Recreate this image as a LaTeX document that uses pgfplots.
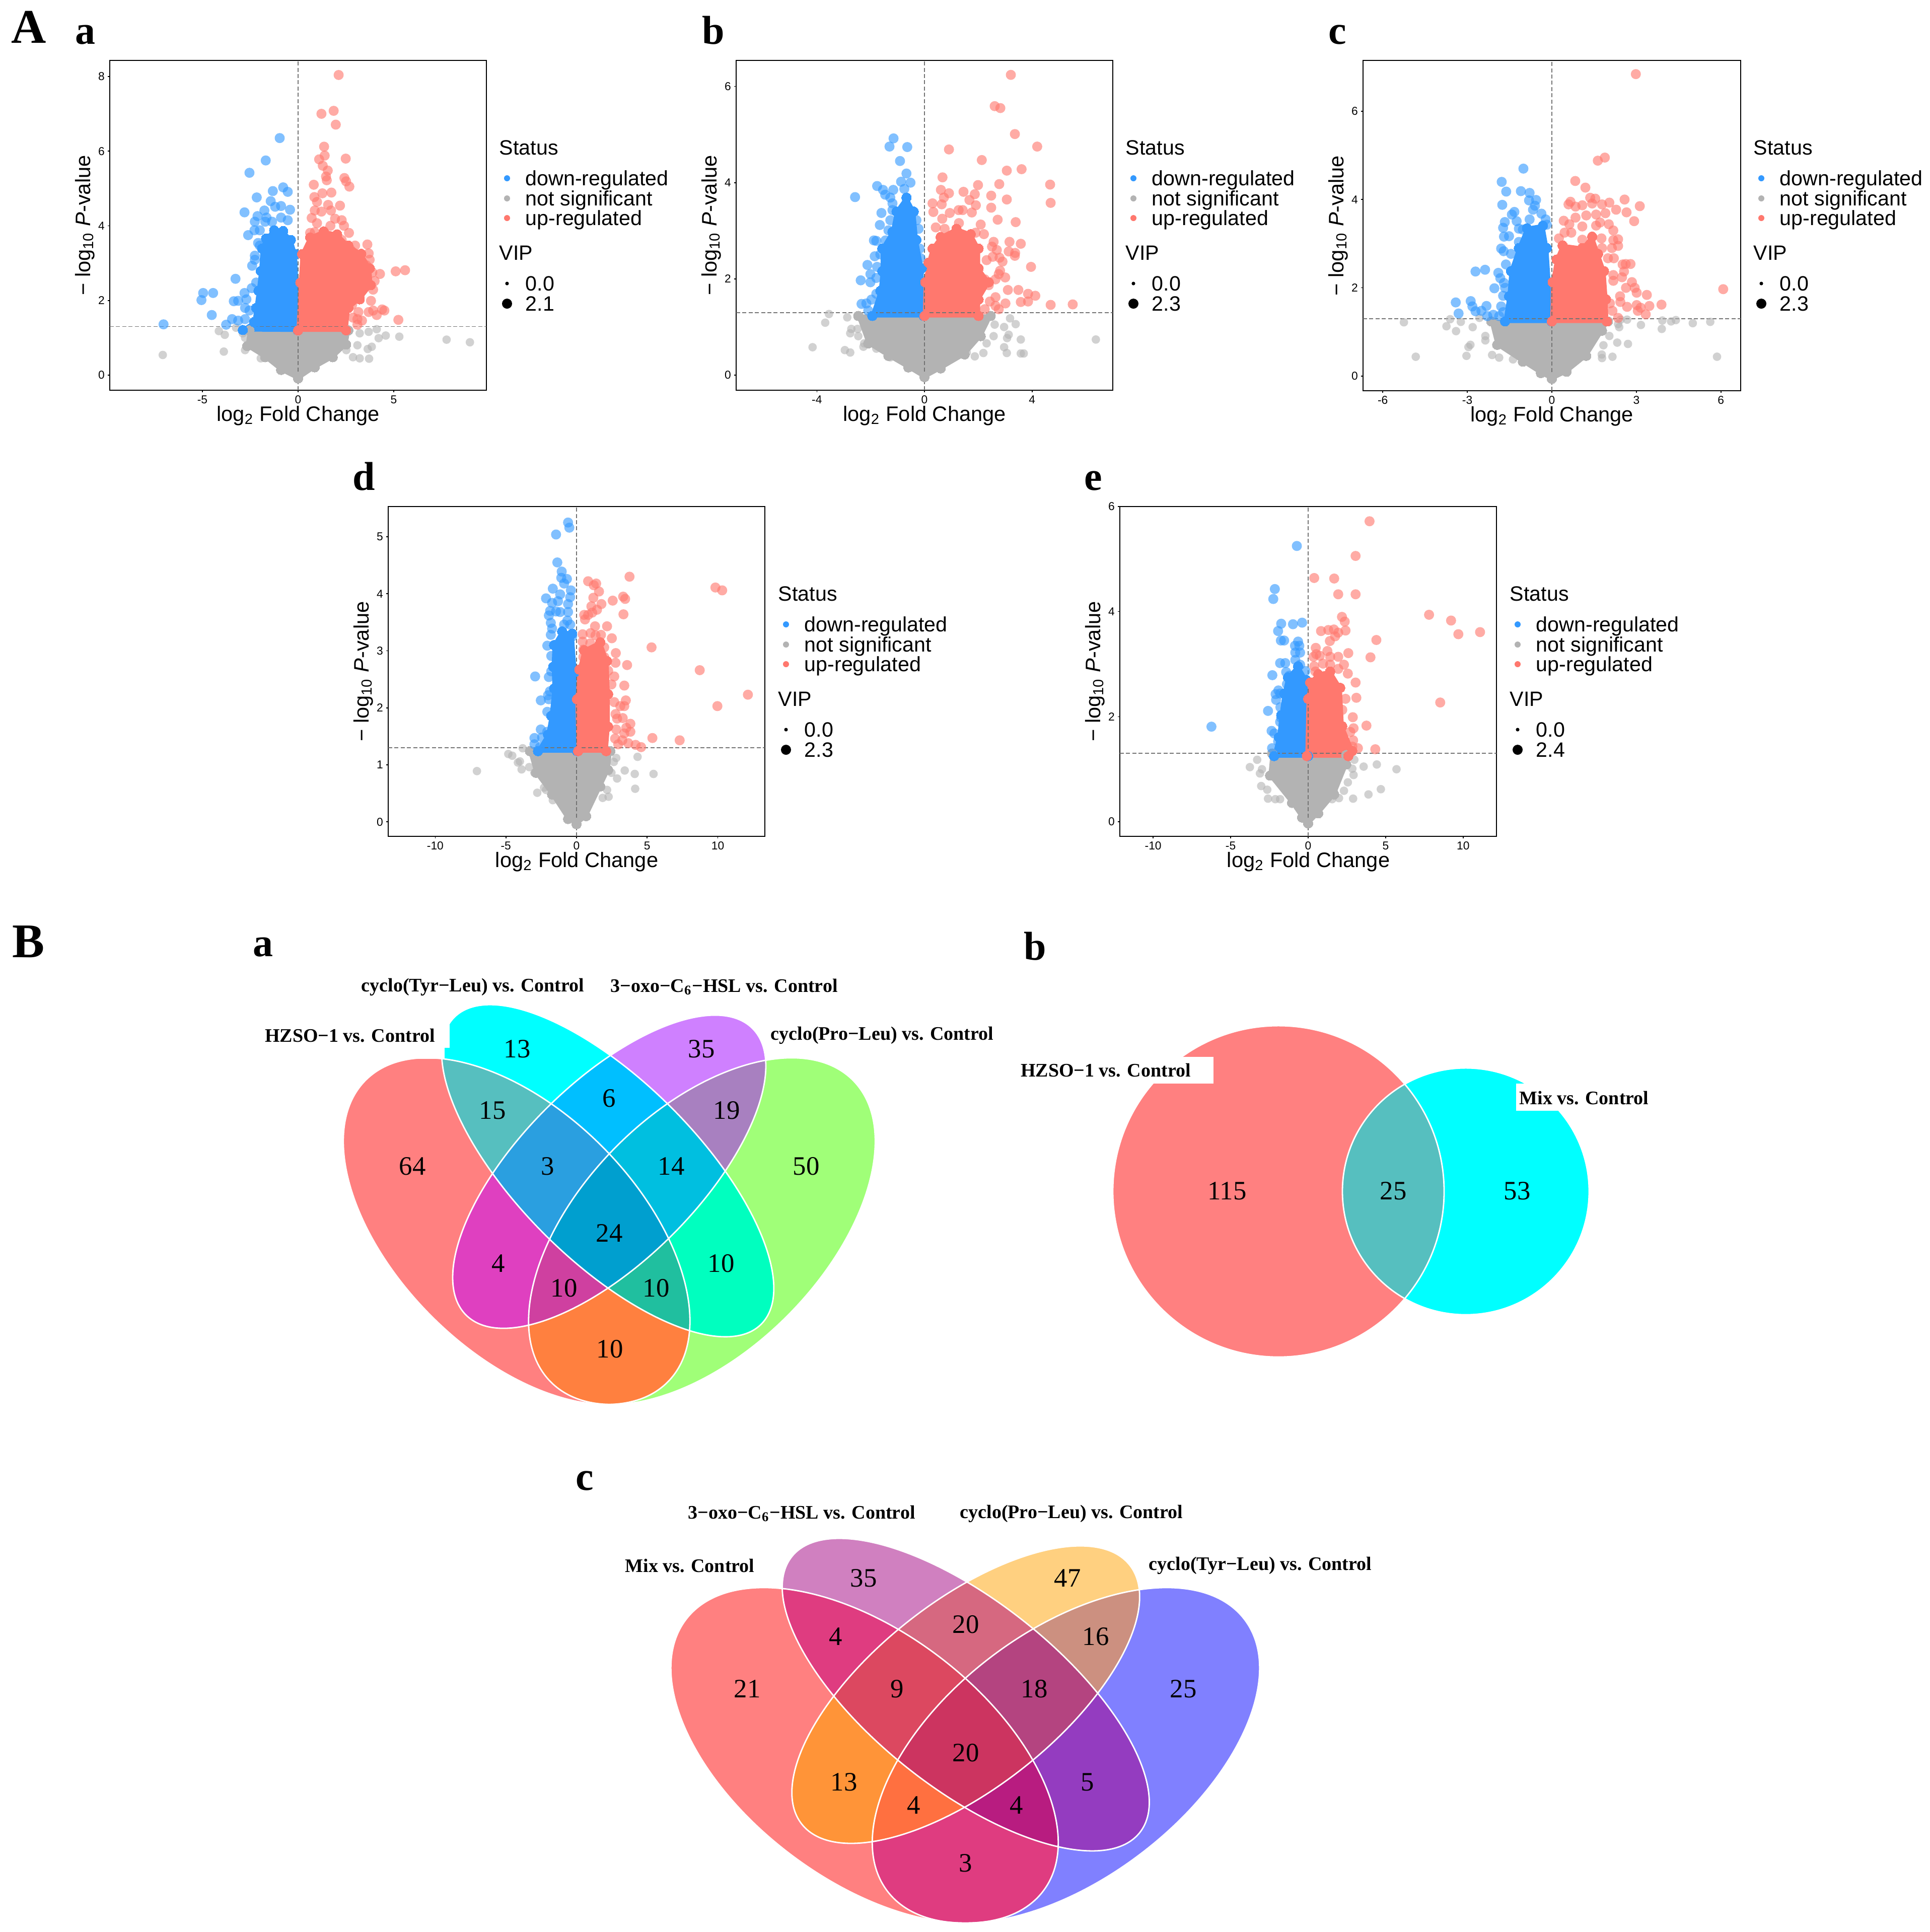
\documentclass[border=0pt]{standalone}
\usepackage{fontspec}
\usepackage{pgfplots}
\pgfplotsset{compat=1.18}
\setmainfont{Liberation Sans}
\newfontfamily\tms{Liberation Serif}

\definecolor{upc}{RGB}{255,120,110}
\definecolor{dnc}{RGB}{51,153,255}
\definecolor{nsc}{RGB}{179,179,179}

% 1 px of the reference = 0.25pt here
\newcommand{\fs}[1]{\fontsize{#1}{#1}\selectfont}
\pgfplotsset{
  volcano/.style={
    scale only axis, width=187pt, height=163.75pt, anchor=south west,
    axis line style={line width=0.55pt}, tick style={black,line width=0.4pt},
    major tick length=1pt, tick align=outside, xtick pos=bottom, ytick pos=left,
    tick label style={font=\fs{5.7}}, x tick label style={yshift=1.8pt}, y tick label style={xshift=2pt},
    clip=true,
  },
  gd/.style={only marks, mark=*, color=nsc, mark size=2.1pt, mark options={draw opacity=0, fill=nsc, fill opacity=0.6}},
  bd/.style={only marks, mark=*, color=dnc, mark size=2.5pt, mark options={draw opacity=0, fill=dnc, fill opacity=0.62}},
  rd/.style={only marks, mark=*, color=upc, mark size=2.5pt, mark options={draw opacity=0, fill=upc, fill opacity=0.62}},
  % saturated part of each cloud, where single points can no longer be told apart
  mass/.style={color=#1, fill=#1, line width=1.6pt, line join=round, mark=*, mark size=2.4pt, mark options={draw=#1, fill=#1, line width=0pt}},
  thr/.style={no markers, gray!90!black, line width=0.45pt, dash pattern=on 2pt off 1.1pt},
}
\newcommand{\refs}[4]{%
  \addplot[thr] coordinates {(#1,1.30103) (#2,1.30103)};
  \addplot[thr] coordinates {(0,#3) (0,#4)};
}

% Venn outlines, centres in reference pixels
\def\Ra{(axis cs:1026,2445) ellipse [x radius=106pt,y radius=59.75pt,rotate=-45]}
\def\Ga{(axis cs:1394,2445) ellipse [x radius=106pt,y radius=59.75pt,rotate=45]}
\def\Ca{(axis cs:1207,2325) ellipse [x radius=107.75pt,y radius=44.5pt,rotate=-45]}
\def\Pa{(axis cs:1210,2327) ellipse [x radius=100.6pt,y radius=44.3pt,rotate=45]}
\def\Rb{(axis cs:2539,2366) circle [radius=82.25pt]}
\def\Cb{(axis cs:2911,2366) circle [radius=61.25pt]}
\def\Rc{(axis cs:1717,3486) ellipse [x radius=111.4pt,y radius=61.4pt,rotate=-37.25]}
\def\Bc{(axis cs:2117,3486) ellipse [x radius=111.4pt,y radius=61.4pt,rotate=37.25]}
\def\Oc{(axis cs:1918,3365.5) ellipse [x radius=110.25pt,y radius=46.5pt,rotate=-38.4]}
\def\Yc{(axis cs:1918,3365.5) ellipse [x radius=103.75pt,y radius=46.25pt,rotate=38.3]}

\newcommand{\vtwo}[3]{\pgfplotsextra{\begin{scope}\clip #1;\fill[#3] #2;\end{scope}}}
\newcommand{\vthree}[4]{\pgfplotsextra{\begin{scope}\clip #1;\clip #2;\fill[#4] #3;\end{scope}}}
\newcommand{\vfour}[5]{\pgfplotsextra{\begin{scope}\clip #1;\clip #2;\clip #3;\fill[#5] #4;\end{scope}}}
\newcommand{\vn}[3]{\node[font=\tms\fs{13.2},inner sep=0pt] at (axis cs:#1,#2) {#3};}
\newcommand{\vl}[3]{\node[font=\tms\bfseries\fs{9.5},inner sep=0pt] at (axis cs:#1,#2) {#3};}
\newcommand{\ptag}[4]{\node[font=\tms\bfseries\fs{#4},inner sep=0pt,anchor=base west] at (axis cs:#1,#2) {#3};}

% key and axis titles of one volcano panel: left, top, right, bottom of its box, VIP maximum
\newcommand{\ldot}[4]{%
  \pgfmathtruncatemacro\lx{#1}\pgfmathtruncatemacro\ly{#2}%
  \edef\tmp{\noexpand\addplot[only marks,mark=*,color=#4,mark size=#3,mark options={draw opacity=0,fill=#4}] coordinates {(\lx,\ly)};}\tmp}
\newcommand{\ltxt}[3]{\node[font=\fs{10.3},inner sep=0pt,anchor=base west] at (axis cs:#1,#2) {#3};}
\newcommand{\pframe}[5]{%
  \node[font=\fs{10.4},inner sep=0pt,anchor=base] at (axis cs:{(#1+#3)/2},#4+61) {log\textsubscript{2} Fold Change};
  \node[font=\fs{10.4},inner sep=0pt,anchor=base,rotate=90] at (axis cs:#1-39,{(#2+#4)/2}) {− log\textsubscript{10} \textit{P}-value};
  \ltxt{#3+25}{#2+187}{Status}
  \ltxt{#3+77}{#2+248}{down-regulated}
  \ltxt{#3+77}{#2+288}{not significant}
  \ltxt{#3+77}{#2+327}{up-regulated}
  \ltxt{#3+25}{#2+396}{VIP}
  \ltxt{#3+77}{#2+457}{0.0}
  \ltxt{#3+77}{#2+497}{#5}
  \ldot{#3+41}{#2+234}{1.5pt}{dnc}
  \ldot{#3+41}{#2+274}{1.5pt}{nsc}
  \ldot{#3+41}{#2+313}{1.5pt}{upc}
  \ldot{#3+41}{#2+443}{0.9pt}{black}
  \ldot{#3+41}{#2+483}{2.5pt}{black}
}

\begin{document}
\begin{tikzpicture}
\path[use as bounding box] (0,0) rectangle (958.25pt,-959.25pt);

% ---------- A a
\begin{axis}[volcano, at={(218*0.25pt,-775*0.25pt)},
  xmin=-9.84, xmax=9.84, ymin=-0.405, ymax=8.43,
  xtick={-5,0,5}, xticklabels={-5,0,5}, ytick={0,2,4,6,8}, yticklabels={0,2,4,6,8}]
\addplot[mass=nsc] coordinates {(-2.54,1.2)(-2.66,.78)(-1.72,.48)(-.89,.14)(0,-.09)(.87,.21)(1.81,.48)(2.51,.82)(2.63,1.2)} --cycle;
\addplot[gd] coordinates {(-4.14,1.18)(-3.83,1.08)(-3.24,1.27)(-2.89,1.12)(-2.77,1.0)(-3.88,.63)(-2.77,.67)(-7.07,.54)(-1.95,.45)(7.76,.95)(8.98,.88)(5.29,1.03)(4.58,1.06)(4.11,1.23)(4.21,.99)(3.69,1.16)(3.22,1.12)(3.1,.8)(3.85,.76)(3.64,.7)(2.87,.48)(3.22,.45)(3.71,.44)(2.52,.67)};
\addplot[mass=dnc] coordinates {(-2.89,1.21)(-2.3,1.42)(-2.19,1.8)(-2.07,2.26)(-1.95,2.79)(-1.88,3.39)(-1.67,3.66)(-1.25,3.88)(-.78,3.86)(-.38,3.62)(-.14,3.24)(-.07,2.48)(-.02,1.2)} --cycle;
\addplot[bd] coordinates {(-.96,6.35)(-1.69,5.75)(-2.54,5.42)(-.78,5.03)(-1.32,4.93)(-.54,4.91)(-2.16,4.76)(-1.43,4.66)(-.89,4.53)(-1.2,4.51)(-.42,4.43)(-1.76,4.41)(-2.8,4.36)(-2.12,4.26)(-1.65,4.22)(-.89,4.22)(-.54,4.15)(-2.26,4.11)(-1.72,4.11)(-1.36,4.11)(-2.0,3.88)(-2.28,3.88)(-2.61,3.75)(-2.09,3.54)(-2.0,3.47)(-2.26,3.2)(-2.26,3.09)(-2.4,2.93)(-3.27,2.58)(-2.19,2.48)(-2.42,2.33)(-4.96,2.2)(-4.44,2.2)(-5.05,2.01)(-2.8,2.2)(-3.36,1.98)(-3.13,1.99)(-2.7,2.03)(-2.77,1.8)(-4.51,1.61)(-2.54,1.73)(-3.45,1.5)(-3.76,1.35)(-7.03,1.36)(-2.77,1.5)(-3.13,1.46)};
\addplot[mass=upc] coordinates {(0,1.2)(.12,2.48)(.21,3.24)(.63,3.69)(1.34,3.85)(2.04,3.77)(2.63,3.47)(3.3,3.25)(3.75,2.86)(3.8,2.41)(3.22,2.03)(2.63,1.8)(2.51,1.2)} --cycle;
\addplot[rd] coordinates {(2.12,8.04)(1.86,7.08)(1.22,7.0)(1.97,6.71)(1.36,6.12)(1.39,5.88)(1.1,5.78)(2.49,5.8)(1.29,5.61)(1.55,5.48)(1.46,5.32)(1.5,5.22)(2.42,5.28)(2.51,5.19)(2.68,5.05)(.82,5.1)(1.74,4.89)(1.27,4.87)(.85,4.77)(.99,4.64)(1.57,4.56)(2.19,4.54)(.87,4.41)(1.22,4.38)(1.72,4.41)(.71,4.21)(1.93,4.19)(2.28,4.15)(2.4,4.0)(.99,4.07)(1.69,4.0)(.87,3.83)(2.66,3.81)(.63,3.81)(2.28,3.62)(3.62,3.5)(2.98,3.47)(2.75,3.35)(3.69,3.26)(3.22,3.2)(3.74,3.09)(3.57,2.94)(3.88,2.75)(4.28,2.71)(5.1,2.78)(5.59,2.81)(4.0,2.52)(3.92,2.29)(3.22,2.1)(3.81,1.99)(2.82,1.88)(4.39,1.76)(4.51,1.73)(3.69,1.69)(3.92,1.73)(4.11,1.61)(3.15,1.69)(5.24,1.48)(2.87,1.54)(3.1,1.35)(3.1,1.5)(3.34,1.46)};
\refs{-9.84}{9.84}{-0.405}{8.43}
\end{axis}

% ---------- A b
\begin{axis}[volcano, at={(1462*0.25pt,-775*0.25pt)},
  xmin=-7, xmax=7, ymin=-0.314, ymax=6.54,
  xtick={-4,0,4}, xticklabels={-4,0,4}, ytick={0,2,4,6}, yticklabels={0,2,4,6}]
\addplot[mass=nsc] coordinates {(-2.46,1.23)(-2.09,.66)(-1.34,.4)(-.6,.16)(0,-.04)(.6,.14)(1.49,.43)(2.09,.81)(2.46,1.23)} --cycle;
\addplot[gd] coordinates {(-3.55,1.27)(-3.69,1.09)(-2.87,1.2)(-2.42,1.23)(-2.72,.96)(-2.76,.87)(-2.49,.96)(-2.46,.81)(-2.24,.66)(-4.16,.58)(-2.96,.52)(-2.76,.47)(-2.27,.59)(-1.79,.55)(-1.27,.37)(3.18,1.18)(3.39,1.06)(2.96,1.0)(2.61,1.05)(2.57,.81)(3.13,.84)(3.07,.77)(3.58,.74)(2.96,.58)(3.06,.46)(3.58,.45)(3.69,.45)(6.37,.74)(2.31,.66)(2.19,.46)(1.87,.39)(1.57,.47)};
\addplot[mass=dnc] coordinates {(-1.94,1.23)(-1.64,1.75)(-1.57,2.16)(-1.57,2.63)(-1.19,2.98)(-1.04,3.4)(-.67,3.69)(-.4,3.4)(-.3,2.81)(-.1,2.22)(-.03,1.23)} --cycle;
\addplot[bd] coordinates {(-1.15,4.92)(-1.3,4.75)(-.64,4.74)(-.91,4.45)(-.67,4.19)(-.87,4.02)(-.52,4.0)(-1.76,3.93)(-1.54,3.85)(-1.16,3.85)(-.75,3.87)(-2.58,3.7)(-1.46,3.75)(-1.27,3.69)(-1.19,3.57)(-1.6,3.37)(-1.19,3.43)(-1.27,3.22)(-1.66,3.12)(-1.34,3.01)(-1.88,2.8)(-1.79,2.79)(-1.45,2.8)(-1.85,2.47)(-1.64,2.51)(-2.12,2.29)(-1.76,2.25)(-2.01,2.1)(-1.79,2.02)(-2.37,1.97)(-2.01,1.93)(-1.79,1.69)(-2.34,1.48)(-2.16,1.49)(-1.97,1.57)(-2.09,1.34)(-.3,3.22)(-.22,3.04)(-.3,2.81)(-.18,2.63)(-.15,2.43)(-.18,2.16)};
\addplot[mass=upc] coordinates {(0,1.23)(.03,1.93)(.15,2.34)(.3,2.63)(.6,2.87)(1.19,3.04)(1.72,2.93)(2.01,2.63)(2.01,2.22)(2.39,1.93)(2.01,1.57)(2.01,1.23)} --cycle;
\addplot[rd] coordinates {(3.21,6.24)(2.61,5.59)(2.82,5.55)(3.36,5.01)(4.19,4.75)(.91,4.69)(2.13,4.47)(3.06,4.25)(3.61,4.28)(.67,4.11)(1.99,3.95)(2.78,3.97)(4.67,3.96)(.61,3.85)(1.45,3.81)(1.87,3.76)(.91,3.78)(.72,3.69)(2.48,3.73)(1.67,3.64)(3.06,3.65)(4.69,3.58)(.3,3.57)(.64,3.55)(1.91,3.53)(2.48,3.48)(.33,3.39)(.94,3.37)(1.27,3.43)(1.42,3.43)(1.76,3.38)(.66,3.25)(2.72,3.23)(3.39,3.18)(2.09,3.13)(1.28,3.16)(.42,3.07)(.75,3.04)(1.9,2.96)(2.21,2.93)(2.57,2.77)(3.16,2.77)(3.58,2.73)(2.51,2.67)(2.69,2.6)(3.13,2.57)(3.37,2.54)(3.36,2.48)(2.79,2.44)(2.54,2.46)(2.9,2.36)(2.31,2.39)(3.96,2.25)(2.81,2.17)(2.76,2.1)(3.0,2.03)(2.64,1.99)(2.24,1.99)(2.39,1.87)(3.1,1.77)(3.49,1.77)(3.85,1.69)(4.12,1.65)(2.64,1.62)(3.85,1.53)(3.58,1.52)(3.01,1.49)(4.69,1.46)(5.51,1.47)(2.64,1.44)(2.43,1.53)(2.24,1.37)(2.76,1.37)};
\refs{-7}{7}{-0.314}{6.54}
\end{axis}

% ---------- A c
\begin{axis}[volcano, width=187.5pt, height=164pt, at={(2707*0.25pt,-776*0.25pt)},
  xmin=-6.7, xmax=6.7, ymin=-0.33, ymax=7.15,
  xtick={-6,-3,0,3,6}, xticklabels={-6,-3,0,3,6}, ytick={0,2,4,6}, yticklabels={0,2,4,6}]
\addplot[mass=nsc] coordinates {(-2.15,1.24)(-1.94,.71)(-1.03,.33)(-.39,.07)(0,-.06)(.52,.1)(1.22,.46)(1.78,1.03)(1.99,1.24)} --cycle;
\addplot[gd] coordinates {(-5.25,1.22)(-3.61,1.29)(-3.74,1.13)(-3.23,1.23)(-3.4,1.02)(-2.81,1.11)(-2.36,.91)(-2.36,.81)(-2.57,1.32)(-2.89,.71)(-2.96,.66)(-4.83,.44)(-3.03,.46)(-2.12,.48)(-1.87,.42)(-1.38,.38)(2.44,1.28)(2.67,1.28)(2.35,1.18)(2.39,1.11)(3.16,1.16)(3.92,1.26)(3.9,1.07)(4.23,1.24)(4.4,1.27)(5.0,1.2)(5.62,1.23)(5.86,.44)(2.04,.91)(2.32,.76)(2.7,.73)(1.83,.7)(1.77,.49)(2.15,.44)(1.78,.41)};
\addplot[mass=dnc] coordinates {(-1.66,1.24)(-1.52,1.81)(-1.45,2.38)(-1.17,2.9)(-.88,3.35)(-.32,3.41)(-.18,2.9)(-.01,1.24)} --cycle;
\addplot[bd] coordinates {(-1.01,4.7)(-1.78,4.4)(-1.62,4.18)(-1.1,4.19)(-.79,4.15)(-.81,3.98)(-.56,3.99)(-1.76,3.88)(-.6,3.86)(-.67,3.77)(-1.33,3.72)(-1.42,3.66)(-.37,3.68)(-.79,3.55)(-.22,3.55)(-1.25,3.51)(-1.67,3.49)(-1.73,3.36)(-.18,3.43)(-1.17,3.34)(-1.03,3.32)(-1.7,3.16)(-1.52,3.17)(-1.17,3.04)(-1.8,2.89)(-1.71,2.83)(-1.45,2.77)(-1.63,2.53)(-2.37,2.41)(-2.71,2.37)(-1.9,2.34)(-1.83,2.22)(-1.7,2.11)(-2.04,1.99)(-1.66,2.0)(-1.73,1.82)(-2.88,1.7)(-3.41,1.67)(-2.82,1.58)(-2.32,1.59)(-3.31,1.42)(-2.71,1.47)(-2.5,1.48)(-1.8,1.58)(-2.08,1.39)(-2.29,1.36)(-1.73,1.45)(-1.87,1.36)};
\addplot[mass=upc] coordinates {(0,1.24)(.03,2.13)(.17,2.64)(.38,2.96)(1.08,2.9)(1.43,3.16)(1.64,2.77)(1.85,2.38)(1.92,1.74)(1.95,1.24)} --cycle;
\addplot[rd] coordinates {(2.98,6.84)(1.88,4.95)(1.63,4.88)(.83,4.42)(1.19,4.27)(2.58,4.0)(1.36,4.04)(1.54,4.02)(.66,3.95)(.59,3.89)(2.04,3.93)(1.78,3.89)(1.08,3.87)(1.43,3.91)(3.12,3.85)(.84,3.84)(2.28,3.77)(2.65,3.71)(1.9,3.69)(1.57,3.66)(1.22,3.64)(.84,3.59)(2.92,3.51)(.42,3.52)(1.71,3.48)(.62,3.44)(2.02,3.44)(1.08,3.39)(1.57,3.41)(.45,3.25)(.69,3.25)(2.18,3.3)(.25,3.12)(1.76,3.12)(2.35,3.1)(2.18,3.08)(1.08,3.09)(2.35,2.95)(2.13,2.9)(1.78,2.9)(1.99,2.67)(2.2,2.67)(2.51,2.53)(2.79,2.54)(2.62,2.54)(2.56,2.37)(2.18,2.29)(2.49,2.24)(2.18,2.16)(2.84,2.13)(2.63,2.0)(2.94,2.0)(3.01,1.89)(3.37,1.84)(2.42,1.81)(6.08,1.97)(2.43,1.68)(2.06,1.65)(2.67,1.57)(3.89,1.62)(3.01,1.61)(3.15,1.55)(3.46,1.59)(3.05,1.48)(2.15,1.48)(3.33,1.4)(2.35,1.32)};
\refs{-6.7}{6.7}{-0.33}{7.15}
\end{axis}

% ---------- A d
\begin{axis}[volcano, at={(771*0.25pt,-1661*0.25pt)},
  xmin=-13.33, xmax=13.33, ymin=-0.255, ymax=5.53,
  xtick={-10,-5,0,5,10}, xticklabels={-10,-5,0,5,10}, ytick={0,1,2,3,4,5}, yticklabels={0,1,2,3,4,5}]
\addplot[mass=nsc] coordinates {(-3.3,1.24)(-2.87,.86)(-1.73,.48)(-.6,.05)(0,-.04)(.68,.1)(1.68,.62)(2.24,.91)(2.39,1.24)} --cycle;
\addplot[gd] coordinates {(-7.05,.89)(-3.81,1.29)(-4.83,1.19)(-4.55,1.16)(-4.01,1.06)(-4.15,1.04)(-3.89,.92)(-3.35,.96)(-2.98,.86)(-2.3,.6)(-2.78,.51)(-2.16,.56)(-1.68,.38)(4.32,1.14)(2.81,1.12)(2.64,1.05)(3.41,.9)(4.12,.84)(5.45,.84)(2.87,.76)(2.47,.86)(4.15,.58)(2.16,.56)(2.27,.44)(1.85,.42)};
\addplot[mass=dnc] coordinates {(-2.73,1.24)(-2.02,1.53)(-1.79,1.86)(-1.59,2.34)(-1.65,2.72)(-1.59,3.1)(-1.02,3.34)(-.31,3.3)(-.11,2.63)(.03,1.24)} --cycle;
\addplot[bd] coordinates {(-.6,5.25)(-.51,5.16)(-1.45,5.04)(-1.36,4.55)(-1.05,4.39)(-.68,4.26)(-1.08,4.28)(-.88,4.18)(-1.68,4.09)(-.4,4.06)(-1.16,3.99)(-2.16,3.92)(-.45,3.94)(-1.73,3.84)(-.6,3.82)(-1.31,3.87)(-1.87,3.7)(-1.45,3.69)(-.6,3.68)(-1.96,3.62)(-1.16,3.68)(-.65,3.53)(-.45,3.46)(-1.82,3.49)(-1.73,3.39)(-.88,3.46)(-1.82,3.28)(-.31,3.25)(-2.07,3.09)(-1.59,3.1)(-1.79,2.91)(-1.79,2.64)(-2.93,2.55)(-1.96,2.54)(-1.88,2.29)(-2.02,2.22)(-2.53,2.13)(-1.96,2.15)(-2.07,1.93)(-2.53,1.62)(-2.98,1.47)(-2.98,1.36)(-2.44,1.48)(-2.07,1.58)(-2.58,1.31)};
\addplot[mass=upc] coordinates {(.11,1.24)(.03,2.15)(.2,2.67)(.54,3.01)(1.68,3.15)(2.16,2.82)(2.24,2.24)(2.24,1.67)(2.1,1.24)} --cycle;
\addplot[rd] coordinates {(3.75,4.3)(.82,4.22)(1.39,4.18)(1.22,4.15)(9.83,4.11)(10.31,4.06)(1.59,4.04)(3.3,3.95)(3.44,3.91)(1.19,3.93)(2.56,3.88)(1.76,3.82)(1.05,3.78)(1.45,3.72)(1.11,3.67)(.54,3.63)(.82,3.63)(3.32,3.64)(.6,3.55)(1.31,3.43)(2.16,3.43)(.99,3.31)(1.73,3.28)(.43,3.29)(1.34,3.27)(2.5,3.22)(.43,3.16)(.97,3.13)(5.31,3.06)(1.96,3.06)(.48,3.02)(2.78,2.96)(.48,2.89)(1.96,2.89)(2.76,2.79)(3.58,2.75)(8.72,2.66)(2.24,2.65)(2.67,2.55)(2.47,2.41)(3.38,2.39)(12.13,2.23)(3.49,2.13)(2.67,2.1)(9.97,2.03)(3.38,2.03)(3.1,2.03)(2.76,1.89)(3.27,1.82)(2.87,1.81)(3.81,1.72)(3.52,1.65)(3.81,1.58)(2.81,1.62)(3.38,1.55)(2.73,1.46)(5.37,1.47)(7.3,1.43)(3.24,1.43)(3.66,1.38)(2.95,1.36)(4.18,1.35)(4.57,1.31)};
\refs{-13.33}{13.33}{-0.255}{5.53}
\end{axis}

% ---------- A e
\begin{axis}[volcano, at={(2224*0.25pt,-1661*0.25pt)},
  xmin=-12.15, xmax=12.15, ymin=-0.278, ymax=6,
  xtick={-10,-5,0,5,10}, xticklabels={-10,-5,0,5,10}, ytick={0,2,4,6}, yticklabels={0,2,4,6}]
\addplot[mass=nsc] coordinates {(-2.33,1.3)(-2.46,.88)(-1.04,.36)(-.39,.08)(0,-.03)(.65,.16)(1.68,.52)(2.46,1.09)(2.46,1.27)} --cycle;
\addplot[gd] coordinates {(-3.29,1.18)(-3.76,1.04)(-2.98,1.0)(-3.11,.92)(-3.03,.68)(-2.64,.61)(-2.59,.44)(-2.12,.43)(-1.81,.43)(2.98,1.18)(2.85,1.01)(2.93,.89)(3.58,1.05)(4.43,1.09)(5.7,1.0)(2.56,.75)(2.31,.59)(4.69,.62)(3.89,.52)(2.9,.44)(1.99,.45)(1.55,.43)};
\addplot[mass=dnc] coordinates {(-2.2,1.25)(-1.89,1.61)(-1.74,2.03)(-1.55,2.44)(-1.3,2.75)(-.65,2.96)(-.13,2.7)(0,1.25)} --cycle;
\addplot[bd] coordinates {(-.73,5.25)(-2.15,4.43)(-2.25,4.24)(-.39,3.79)(-1.74,3.77)(-.98,3.76)(-1.94,3.63)(-1.76,3.45)(-1.55,3.45)(-.65,3.43)(-.57,3.35)(-.85,3.35)(-.83,3.22)(-.52,3.22)(-.83,3.08)(-1.81,3.02)(-1.48,3.02)(-.52,2.99)(-1.42,2.85)(-.18,2.87)(-2.31,2.79)(-1.22,2.78)(-1.37,2.62)(-1.92,2.5)(-2.1,2.43)(-1.81,2.44)(-2.07,2.32)(-1.79,2.18)(-2.59,2.11)(-1.74,1.98)(-1.81,1.9)(-6.24,1.81)(-2.36,1.73)(-2.18,1.68)(-1.94,1.53)(-2.33,1.4)};
\addplot[mass=upc] coordinates {(-.08,1.25)(0,2.34)(.13,2.65)(.65,2.81)(1.42,2.86)(2.07,2.55)(2.2,1.82)(2.85,1.35)(2.59,1.25)} --cycle;
\addplot[rd] coordinates {(3.96,5.72)(3.06,5.06)(.39,4.64)(1.68,4.63)(3.06,4.33)(1.94,4.33)(7.8,3.94)(9.22,3.83)(2.18,3.9)(2.36,3.81)(9.69,3.57)(11.09,3.61)(.83,3.63)(1.3,3.65)(1.66,3.66)(1.94,3.6)(2.41,3.64)(1.74,3.53)(1.4,3.44)(4.4,3.46)(.49,3.31)(1.24,3.25)(2.59,3.21)(.52,3.19)(.34,3.14)(.75,3.16)(1.42,3.14)(1.94,3.14)(4.02,3.13)(.96,3.01)(2.31,2.99)(.39,2.96)(1.42,2.99)(1.94,2.91)(2.56,2.82)(.47,2.86)(3.06,2.65)(.21,2.65)(3.11,2.36)(8.52,2.27)(2.41,2.34)(2.2,2.13)(2.88,1.99)(3.76,1.83)(2.93,1.78)(2.72,1.71)(2.9,1.55)(4.33,1.38)(3.21,1.4)(2.85,1.43)};
\refs{-12.15}{12.15}{-0.278}{6}
\end{axis}

% ---------- page-wide axis in reference pixels: keys, titles, Venn diagrams
\begin{axis}[scale only axis, width=958.25pt, height=959.25pt, at={(0pt,-959.25pt)}, anchor=south west,
  xmin=0, xmax=3833, ymin=0, ymax=3837, y dir=reverse, hide axis, clip=false]

\pframe{218}{120}{966}{775}{2.1}
\pframe{1462}{120}{2210}{775}{2.3}
\pframe{2707}{120}{3457}{776}{2.3}
\pframe{771}{1006}{1520}{1661}{2.3}
\pframe{2224}{1006}{2973}{1661}{2.4}

\ptag{22}{85}{A}{24}
\ptag{149}{87}{a}{20}
\ptag{1394}{87}{b}{20}
\ptag{2638}{87}{c}{20}
\ptag{700}{973}{d}{20}
\ptag{2153}{973}{e}{20}
\ptag{24}{1901}{B}{24}
\ptag{502}{1899}{a}{20}
\ptag{2033}{1906}{b}{20}
\ptag{1143}{2959}{c}{20}

% Venn a
\fill[color={rgb,255:red,255;green,128;blue,128}] \Ra;
\fill[color={rgb,255:red,160;green,255;blue,120}] \Ga;
\fill[color={rgb,255:red,0;green,255;blue,255}] \Ca;
\fill[color={rgb,255:red,207;green,128;blue,255}] \Pa;
\fill[white] (axis cs:520,2030) rectangle (axis cs:893,2081);
\fill[white] (axis cs:520,2081) rectangle (axis cs:883,2103);
\vtwo{\Ra}{\Ca}{color={rgb,255:red,86;green,191;blue,191}}
\vtwo{\Ra}{\Pa}{color={rgb,255:red,223;green,64;blue,192}}
\vtwo{\Ra}{\Ga}{color={rgb,255:red,255;green,128;blue,63}}
\vtwo{\Ca}{\Pa}{color={rgb,255:red,0;green,191;blue,255}}
\vtwo{\Ca}{\Ga}{color={rgb,255:red,0;green,255;blue,191}}
\vtwo{\Pa}{\Ga}{color={rgb,255:red,168;green,128;blue,192}}
\vthree{\Ra}{\Ca}{\Pa}{color={rgb,255:red,42;green,159;blue,224}}
\vthree{\Ca}{\Pa}{\Ga}{color={rgb,255:red,0;green,191;blue,224}}
\vthree{\Ra}{\Pa}{\Ga}{color={rgb,255:red,207;green,64;blue,160}}
\vthree{\Ra}{\Ca}{\Ga}{color={rgb,255:red,32;green,191;blue,159}}
\vfour{\Ra}{\Ca}{\Pa}{\Ga}{color={rgb,255:red,0;green,159;blue,207}}
\draw[white,line width=0.7pt] \Ra; \draw[white,line width=0.7pt] \Ga;
\draw[white,line width=0.7pt] \Ca; \draw[white,line width=0.7pt] \Pa;
\vl{939}{1960}{cyclo(Tyr−Leu) vs. Control}
\vl{1438}{1960}{3−oxo−C\textsubscript{6}−HSL vs. Control}
\vl{695}{2056}{HZSO−1 vs. Control}
\vl{1752}{2056}{cyclo(Pro−Leu) vs. Control}
\vn{1027}{2083}{13}\vn{1393}{2083}{35}\vn{978}{2205}{15}\vn{1210}{2181}{6}\vn{1443}{2205}{19}
\vn{819}{2316}{64}\vn{1088}{2316}{3}\vn{1333}{2316}{14}\vn{1601}{2316}{50}\vn{1210}{2449}{24}
\vn{990}{2509}{4}\vn{1432}{2509}{10}\vn{1120}{2558}{10}\vn{1303}{2558}{10}\vn{1211}{2679}{10}

% Venn b
\fill[color={rgb,255:red,255;green,128;blue,128}] \Rb;
\fill[color={rgb,255:red,0;green,255;blue,255}] \Cb;
\vtwo{\Rb}{\Cb}{color={rgb,255:red,86;green,191;blue,191}}
\draw[white,line width=0.7pt] \Rb; \draw[white,line width=0.7pt] \Cb;
\fill[white] (axis cs:2020,2099) rectangle (axis cs:2410,2152);
\fill[white] (axis cs:3011,2152) rectangle (axis cs:3280,2206);
\vl{2196}{2125}{HZSO−1 vs. Control}
\vl{3146}{2180}{Mix vs. Control}
\vn{2437}{2365}{115}\vn{2767}{2365}{25}\vn{3013}{2365}{53}

% Venn c
\fill[color={rgb,255:red,255;green,128;blue,128}] \Rc;
\fill[color={rgb,255:red,128;green,128;blue,255}] \Bc;
\fill[color={rgb,255:red,208;green,128;blue,192}] \Oc;
\fill[color={rgb,255:red,255;green,208;blue,128}] \Yc;
\vtwo{\Rc}{\Oc}{color={rgb,255:red,223;green,60;blue,128}}
\vtwo{\Rc}{\Yc}{color={rgb,255:red,255;green,148;blue,56}}
\vtwo{\Rc}{\Bc}{color={rgb,255:red,223;green,60;blue,128}}
\vtwo{\Oc}{\Yc}{color={rgb,255:red,214;green,104;blue,128}}
\vtwo{\Oc}{\Bc}{color={rgb,255:red,148;green,60;blue,192}}
\vtwo{\Yc}{\Bc}{color={rgb,255:red,204;green,144;blue,128}}
\vthree{\Rc}{\Oc}{\Yc}{color={rgb,255:red,220;green,72;blue,96}}
\vthree{\Rc}{\Oc}{\Bc}{color={rgb,255:red,184;green,28;blue,128}}
\vthree{\Rc}{\Yc}{\Bc}{color={rgb,255:red,255;green,112;blue,64}}
\vthree{\Oc}{\Yc}{\Bc}{color={rgb,255:red,180;green,68;blue,128}}
\vfour{\Rc}{\Oc}{\Yc}{\Bc}{color={rgb,255:red,204;green,52;blue,96}}
\draw[white,line width=0.7pt] \Rc; \draw[white,line width=0.7pt] \Bc;
\draw[white,line width=0.7pt] \Oc; \draw[white,line width=0.7pt] \Yc;
\vl{1592}{3006}{3−oxo−C\textsubscript{6}−HSL vs. Control}
\vl{2128}{3006}{cyclo(Pro−Leu) vs. Control}
\vl{1370}{3109}{Mix vs. Control}
\vl{2503}{3109}{cyclo(Tyr−Leu) vs. Control}
\vn{1715}{3134}{35}\vn{2120}{3134}{47}\vn{1918}{3226}{20}\vn{1660}{3250}{4}\vn{2176}{3250}{16}
\vn{1484}{3354}{21}\vn{1782}{3354}{9}\vn{2054}{3354}{18}\vn{2350}{3354}{25}\vn{1918}{3481}{20}
\vn{1676}{3539}{13}\vn{2160}{3539}{5}\vn{1815}{3585}{4}\vn{2019}{3585}{4}\vn{1918}{3700}{3}
\end{axis}
\end{tikzpicture}
\end{document}
